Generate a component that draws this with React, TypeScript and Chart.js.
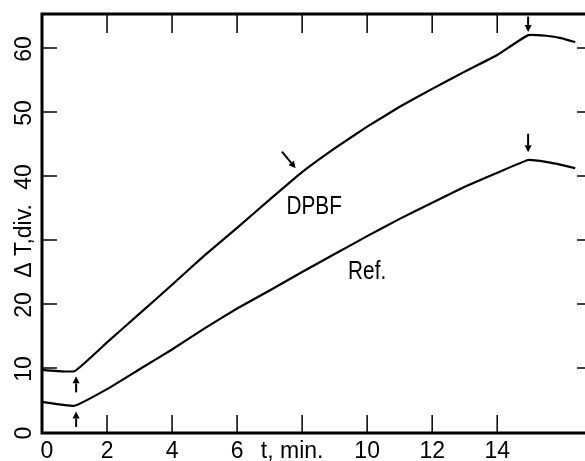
import { useEffect, useRef } from 'react';
import { Chart, registerables } from 'chart.js';

Chart.register(...registerables);

// Data
const timeMin = [0, 1, 2, 3, 4, 5, 6, 7, 8, 9, 10, 11, 12, 13, 14, 14.95, 15.5, 16, 16.4];
const dpbfValues = [9.7, 9.5, 14.0, 18.5, 23.0, 27.6, 31.9, 36.3, 40.6, 44.3, 47.7, 50.8, 53.6, 56.3, 58.9, 62.0, 61.9, 61.5, 60.9];
const refValues = [4.7, 4.1, 6.7, 9.8, 12.9, 16.2, 19.3, 22.1, 25.0, 27.8, 30.6, 33.3, 35.8, 38.3, 40.5, 42.5, 42.2, 41.7, 41.2];

const xTickValues = [0, 2, 4, 6, 8, 10, 12, 14];
const xTickLabels = ['0', '2', '4', '6', 't, min.', '10', '12', '14'];
const yTickValues = [0, 10, 20, 30, 40, 50, 60];
const yTickLabels = ['0', '10', '20', '\u0394 T,div.', '40', '50', '60'];

const seriesLabels = ['DPBF', 'Ref.'];
const seriesLabelPos = [[8.37, 35.2], [10.0, 25.0]];
// arrows: [x1, y1, x2, y2] in data units, head at second point
const arrowList = [
  [1.05, 6.2, 1.05, 8.7],
  [1.05, 0.8, 1.05, 3.2],
  [14.95, 64.9, 14.95, 62.5],
  [14.95, 46.6, 14.95, 43.7],
  [7.38, 43.8, 7.8, 41.2],
];

const FONT = "'Liberation Sans', Arial, sans-serif";

const decorPlugin = {
  id: 'decor',
  afterDatasetsDraw(chart: any) {
    const { ctx, chartArea, scales } = chart;
    const xs = scales.x;
    const ys = scales.y;
    const { left, right, top, bottom } = chartArea;
    ctx.save();
    ctx.strokeStyle = '#000';
    ctx.fillStyle = '#000';
    ctx.lineCap = 'butt';

    // frame (left, top, bottom)
    ctx.lineWidth = 3;
    ctx.beginPath();
    ctx.moveTo(right, top);
    ctx.lineTo(left, top);
    ctx.lineTo(left, bottom);
    ctx.lineTo(right, bottom);
    ctx.stroke();

    // inward ticks
    ctx.lineWidth = 1.5;
    ctx.beginPath();
    xTickValues.forEach((v) => {
      if (v === 0) return;
      const px = xs.getPixelForValue(v);
      ctx.moveTo(px, bottom);
      ctx.lineTo(px, bottom - 18);
      ctx.moveTo(px, top);
      ctx.lineTo(px, top + 19);
    });
    yTickValues.forEach((v) => {
      if (v === 0) return;
      const py = ys.getPixelForValue(v);
      ctx.moveTo(left, py);
      ctx.lineTo(left + 15, py);
      ctx.moveTo(right, py);
      ctx.lineTo(right - 8, py);
    });
    ctx.stroke();

    // x tick labels
    ctx.font = `23px ${FONT}`;
    ctx.textAlign = 'center';
    ctx.textBaseline = 'middle';
    xTickValues.forEach((v, i) => {
      const px = xs.getPixelForValue(v);
      const lab = xTickLabels[i];
      const off = v === 0 ? 5 : lab.length > 3 ? -10 : 0;
      ctx.fillText(lab, px + off, bottom + 19);
    });

    // y tick labels rotated
    yTickValues.forEach((v, i) => {
      const py = ys.getPixelForValue(v);
      ctx.save();
      ctx.translate(left - 17, py + 1);
      ctx.rotate(-Math.PI / 2);
      ctx.fillText(yTickLabels[i], 0, 0);
      ctx.restore();
    });

    // series labels (condensed lettering)
    ctx.font = `25px ${FONT}`;
    seriesLabels.forEach((lab, i) => {
      const [dx, dy] = seriesLabelPos[i];
      ctx.save();
      ctx.translate(xs.getPixelForValue(dx), ys.getPixelForValue(dy));
      ctx.scale(0.83, 1);
      ctx.fillText(lab, 0, 0);
      ctx.restore();
    });

    // arrows
    ctx.lineWidth = 2;
    arrowList.forEach(([x1, y1, x2, y2]) => {
      const p1x = xs.getPixelForValue(x1);
      const p1y = ys.getPixelForValue(y1);
      const p2x = xs.getPixelForValue(x2);
      const p2y = ys.getPixelForValue(y2);
      const ang = Math.atan2(p2y - p1y, p2x - p1x);
      const hl = 7;
      const hw = 3.5;
      const bx = p2x - hl * Math.cos(ang);
      const by = p2y - hl * Math.sin(ang);
      ctx.beginPath();
      ctx.moveTo(p1x, p1y);
      ctx.lineTo(bx, by);
      ctx.stroke();
      ctx.beginPath();
      ctx.moveTo(p2x, p2y);
      ctx.lineTo(bx + hw * Math.sin(ang), by - hw * Math.cos(ang));
      ctx.lineTo(bx - hw * Math.sin(ang), by + hw * Math.cos(ang));
      ctx.closePath();
      ctx.fill();
    });

    ctx.restore();
  },
};

export default function App() {
  const canvasRef = useRef<HTMLCanvasElement | null>(null);

  useEffect(() => {
    if (!canvasRef.current) return;
    const toPts = (ys: number[]) => timeMin.map((x, i) => ({ x, y: ys[i] }));
    const chart = new Chart(canvasRef.current, {
      type: 'line',
      data: {
        datasets: [
          {
            label: seriesLabels[0],
            data: toPts(dpbfValues),
            borderColor: '#000',
            borderWidth: 2.2,
            pointRadius: 0,
            tension: 0.1,
            fill: false,
          },
          {
            label: seriesLabels[1],
            data: toPts(refValues),
            borderColor: '#000',
            borderWidth: 2.2,
            pointRadius: 0,
            tension: 0.1,
            fill: false,
          },
        ],
      },
      options: {
        responsive: false,
        animation: false,
        devicePixelRatio: 1,
        layout: { padding: { left: 42, top: 14, right: 0, bottom: 28 } },
        plugins: { legend: { display: false }, tooltip: { enabled: false } },
        scales: {
          x: { type: 'linear', min: 0, max: 16.7, display: false },
          y: { type: 'linear', min: -0.15, max: 65.3, display: false },
        },
      },
      plugins: [decorPlugin],
    });
    return () => chart.destroy();
  }, []);

  return (
    <div style={{ position: 'absolute', left: 0, top: 0, width: 585, height: 461, background: '#fff' }}>
      <canvas ref={canvasRef} width={585} height={461} />
    </div>
  );
}
